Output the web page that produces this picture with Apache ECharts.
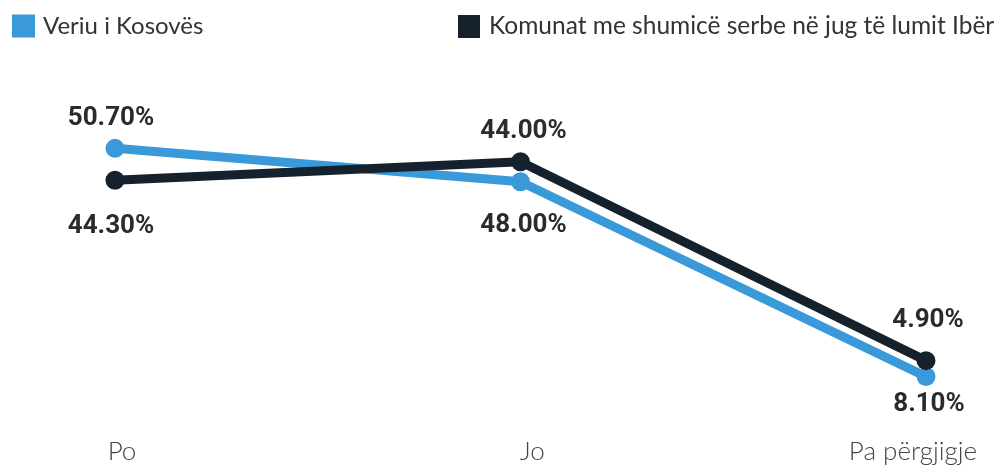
<!DOCTYPE html>
<html><head><meta charset="utf-8">
<script src="https://cdn.jsdelivr.net/npm/echarts@6/dist/echarts.min.js"></script>
<style>html,body{margin:0;padding:0;background:#fff}#c{width:1001px;height:465px}</style>
</head><body><div id="c"></div>
<script>
const categories = ['Po', 'Jo', 'Pa përgjigje'];
const seriesNames = ['Veriu i Kosovës', 'Komunat me shumicë serbe në jug të lumit Ibër'];
const veriuValues = [50.70, 44.00, 4.90];
const komunatValues = [44.30, 48.00, 8.10];
const colors = ['#3a9ad9', '#15212c'];

// styling only: label offsets and category label paddings
const veriuLabelOffsets = [[-4, -30], [3, -50], [2, -56]];
const komunatLabelOffsets = [[-4, 46], [3, 64], [3, 44]];
const catPaddings = [[0, 0, 0, 14], [0, 0, 0, 24], [0, 26, 0, 0]];

function items(vals, offs) {
  return vals.map((v, i) => ({ value: v, label: { offset: offs[i] } }));
}

const labelStyle = {
  show: true,
  position: 'inside',
  formatter: p => p.value.toFixed(2) + '%',
  fontFamily: 'Roboto',
  fontWeight: 'bold',
  fontSize: 26,
  color: '#2b2b2b'
};

const chart = echarts.init(document.getElementById('c'));
chart.setOption({
  animation: false,
  grid: { left: 115, right: 75, top: 102, bottom: 63.5 },
  legend: [
    { data: [seriesNames[0]], left: 7, top: 9, icon: 'rect', itemWidth: 23, itemHeight: 23,
      textStyle: { fontFamily: 'Lato', fontSize: 24, color: '#333', padding: [0, 0, 0, 3] } },
    { data: [seriesNames[1]], left: 453, top: 9, icon: 'rect', itemWidth: 22, itemHeight: 23,
      textStyle: { fontFamily: 'Lato', fontSize: 24.5, color: '#333', padding: [0, 0, 0, 4] } }
  ],
  xAxis: {
    type: 'category',
    data: categories.map((c, i) => ({ value: c, textStyle: { padding: catPaddings[i] } })),
    boundaryGap: false,
    axisLine: { show: false }, axisTick: { show: false },
    axisLabel: { margin: 38, fontFamily: 'Lato', fontWeight: 300, fontSize: 26, color: '#444' }
  },
  yAxis: { type: 'value', min: 0, max: 60, show: false, splitLine: { show: false } },
  series: [
    { name: seriesNames[0], type: 'line', data: items(veriuValues, veriuLabelOffsets),
      symbol: 'circle', symbolSize: 19, lineStyle: { width: 9, color: colors[0] },
      itemStyle: { color: colors[0] }, label: labelStyle, z: 2 },
    { name: seriesNames[1], type: 'line', data: items(komunatValues, komunatLabelOffsets),
      symbol: 'circle', symbolSize: 19, lineStyle: { width: 9, color: colors[1] },
      itemStyle: { color: colors[1] }, label: labelStyle, z: 3 }
  ]
});
</script></body></html>
